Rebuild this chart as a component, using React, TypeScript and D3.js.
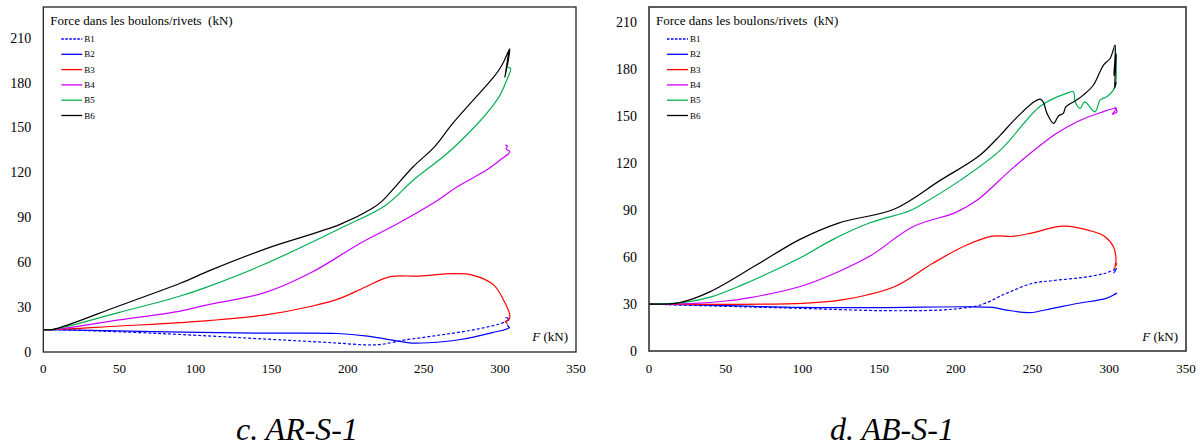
import React from "react";
import * as d3 from "d3";

type Pt = [number, number];

// ---------- shared axis / legend texts ----------
const yTicks = [0, 30, 60, 90, 120, 150, 180, 210];
const xTicks = [0, 50, 100, 150, 200, 250, 300, 350];
const seriesNames = ["B1", "B2", "B3", "B4", "B5", "B6"];
const seriesColors = ["#0000ff", "#0000ff", "#ff0000", "#cc00ff", "#00b050", "#000000"];
const seriesDashed = [true, false, false, false, false, false];
const yTitle = "Force dans les boulons/rivets  (kN)";
const captionLeft = "c. AR-S-1";
const captionRight = "d. AB-S-1";

// ---------- c. AR-S-1 ----------
const arB1: Pt[] = [[0, 15], [6, 15], [72, 12.6], [147, 8.6], [193, 6], [213, 4.7], [223, 5.2], [233, 7.2], [238, 8.1], [261, 11.4], [286, 15.5], [303, 20], [306, 22], [304, 23], [306, 21]];
const arB2: Pt[] = [[0, 15], [6, 15], [72, 13.6], [147, 12.6], [193, 12.4], [213, 10.6], [233, 7.3], [242, 6], [253, 6.2], [273, 8.2], [295, 13], [306, 16.2], [305, 18], [306.5, 16]];
const arB3: Pt[] = [[0, 15], [6, 15], [50, 17.4], [90, 19.6], [145, 24.7], [177, 30.8], [195, 35.9], [212, 43.7], [228, 50.4], [247, 50.8], [269, 52.4], [282, 51.5], [296, 44.8], [303, 33.6], [306.5, 24.7], [306, 21.8], [303.5, 20.3], [305, 19]];
const arB4: Pt[] = [[0, 15], [6, 15], [50, 21.5], [90, 27.4], [107, 31.4], [146, 39.9], [177, 53.7], [208, 72.7], [233, 86], [256, 99.5], [272, 110.6], [291, 121.7], [300, 128.4], [306.5, 134], [304, 136], [305, 138], [303.5, 138.5]];
const arB5: Pt[] = [[0, 15], [6, 15], [50, 26.5], [90, 37.5], [107, 43.3], [144, 58.2], [195, 82.7], [225, 98.3], [243, 115], [269, 136.2], [298, 168.6], [304.5, 182], [307, 189.8], [305.5, 190.5]];
const arB6: Pt[] = [[0, 15], [6, 15], [50, 31], [90, 46], [110, 54.8], [147, 69.4], [195, 85.4], [216, 96.1], [222, 100.5], [243, 124], [257, 137.3], [269, 153], [296, 184.2], [300, 189.8], [303, 195.3], [306.5, 203], [303.3, 184], [306, 202], [305.5, 199]];

// ---------- d. AB-S-1 ----------
const abB1: Pt[] = [[0, 30], [50, 28.6], [98, 27.3], [153, 25.8], [190, 26.2], [203, 27.3], [216, 29.4], [233, 36.9], [250, 43.3], [263, 45], [283, 47.1], [297, 49.6], [304.4, 52.2], [303, 50], [304.8, 53]];
const abB2: Pt[] = [[0, 30], [50, 29], [98, 27.9], [150, 27.8], [207, 28.3], [224, 27.9], [233, 26.2], [248, 24.5], [263, 27.3], [279, 30.4], [298, 33.7], [304.8, 36.8], [302, 35.5], [305, 37]];
const abB3: Pt[] = [[0, 30], [50, 29.8], [100, 30.5], [125, 32.5], [142, 35.8], [161, 41.6], [185, 56.1], [207, 67.8], [224, 73.5], [237, 73.3], [250, 75.6], [270, 79.9], [290, 76.3], [297, 73.3], [302.7, 66.7], [304.4, 58.2], [303.8, 54], [305, 56], [303, 52.5]];
const abB4: Pt[] = [[0, 30], [30, 30.5], [50, 32], [65, 34], [98, 41.1], [122, 50.1], [144, 60.7], [172, 79.5], [200, 88.7], [214, 96.6], [238, 117.8], [264, 138.1], [279, 146.6], [294, 152.4], [304.8, 155.2], [302, 151.5], [305, 153], [303.5, 156]];
const abB5: Pt[] = [[0, 30], [22, 31], [40, 34.5], [60, 42], [98, 59.3], [120, 71.4], [144, 82], [170, 89.7], [179, 94.5], [203, 109.3], [229, 128.5], [255, 156.6], [272, 164.8], [276.6, 165.8], [277.7, 159.4], [281, 155.2], [284, 159.4], [290.7, 153], [294, 160.5], [298.3, 162.6], [302.6, 166.9], [304.4, 173.3], [303.8, 193.5], [304.5, 180], [304, 188]];
const abB6: Pt[] = [[0, 30], [20, 31], [40, 38], [70, 55], [98.4, 71.4], [124, 82], [160, 90.8], [190, 109.3], [215, 124.7], [229, 138.1], [238, 147.7], [251, 159.4], [255, 161.1], [257, 159.2], [259.4, 152], [263.7, 145.6], [267, 150.5], [270, 152], [271.7, 156.2], [278.7, 160.5], [283, 163.7], [289.6, 170], [296.2, 182.9], [300.5, 187.1], [303.8, 195.7], [303, 176], [304.6, 190], [303.5, 168], [304.5, 172]];

const arSeries = [arB1, arB2, arB3, arB4, arB5, arB6];
const abSeries = [abB1, abB2, abB3, abB4, abB5, abB6];

const FONT = "'Liberation Serif', 'Times New Roman', serif";

interface PanelProps {
  left: number;
  right: number;
  top: number;
  bottom: number;
  y0: number;
  y210: number;
  series: Pt[][];
  frameColor: string;
  frameWidth: number;
}

function Panel(p: PanelProps) {
  const x = d3.scaleLinear().domain([0, 350]).range([p.left, p.right]);
  const y = d3.scaleLinear().domain([0, 210]).range([p.y0, p.y210]);
  const line = d3
    .line<Pt>()
    .x((d) => x(d[0]))
    .y((d) => y(d[1]))
    .curve(d3.curveCatmullRom.alpha(0.5));
  return (
    <g>
      <rect
        x={p.left}
        y={p.top}
        width={p.right - p.left}
        height={p.bottom - p.top}
        fill="#fff"
        stroke={p.frameColor}
        strokeWidth={p.frameWidth}
      />
      {p.series.map((s, i) => (
        <path
          key={i}
          d={line(s) || ""}
          fill="none"
          stroke={seriesColors[i]}
          strokeWidth={1.2}
          strokeDasharray={seriesDashed[i] ? "3,2" : undefined}
          strokeLinejoin="round"
        />
      ))}
      {yTicks.map((t) => (
        <text
          key={"y" + t}
          x={p.left - 12}
          y={y(t)}
          textAnchor="end"
          dominantBaseline="central"
          style={{ fontFamily: FONT }}
          fontSize={14}
          fill="#000"
        >
          {t}
        </text>
      ))}
      {xTicks.map((t) => (
        <text
          key={"x" + t}
          x={x(t)}
          y={368}
          textAnchor="middle"
          dominantBaseline="central"
          style={{ fontFamily: FONT }}
          fontSize={13}
          fill="#000"
        >
          {t}
        </text>
      ))}
      <text
        x={p.left + 7}
        y={20}
        dominantBaseline="central"
        style={{ fontFamily: FONT, whiteSpace: "pre" }}
        fontSize={13}
        fill="#000"
      >
        {yTitle}
      </text>
      {seriesNames.map((n, i) => {
        const ly = 39 + i * 15.3;
        return (
          <g key={n}>
            <line
              x1={p.left + 18}
              x2={p.left + 39}
              y1={ly}
              y2={ly}
              stroke={seriesColors[i]}
              strokeWidth={1.3}
              strokeDasharray={seriesDashed[i] ? "2.5,1.5" : undefined}
            />
            <text x={p.left + 41} y={ly} dominantBaseline="central" style={{ fontFamily: FONT }} fontSize={9} fill="#000">
              {n}
            </text>
          </g>
        );
      })}
      <text
        x={p.right - 8}
        y={336}
        textAnchor="end"
        dominantBaseline="central"
        style={{ fontFamily: FONT }}
        fontSize={13}
        fill="#000"
      >
        <tspan fontStyle="italic">F</tspan>
        <tspan> (kN)</tspan>
      </text>
    </g>
  );
}

export default function App() {
  return (
    <svg
      width={1204}
      height={446}
      style={{ position: "absolute", left: 0, top: 0, background: "#fff" }}
    >
      <rect x={0} y={0} width={1204} height={446} fill="#fff" />
      <Panel
        left={43.3}
        right={576}
        top={7}
        bottom={352}
        y0={352}
        y210={38.3}
        series={arSeries}
        frameColor="#222"
        frameWidth={1.3}
      />
      <Panel
        left={649}
        right={1186}
        top={7}
        bottom={351}
        y0={351}
        y210={22.7}
        series={abSeries}
        frameColor="#333"
        frameWidth={1.6}
      />
      <text x={297} y={429} textAnchor="middle" dominantBaseline="central" style={{ fontFamily: FONT }} fontSize={32} fontStyle="italic" fill="#000">
        {captionLeft}
      </text>
      <text x={892} y={429} textAnchor="middle" dominantBaseline="central" style={{ fontFamily: FONT }} fontSize={32} fontStyle="italic" fill="#000">
        {captionRight}
      </text>
    </svg>
  );
}
